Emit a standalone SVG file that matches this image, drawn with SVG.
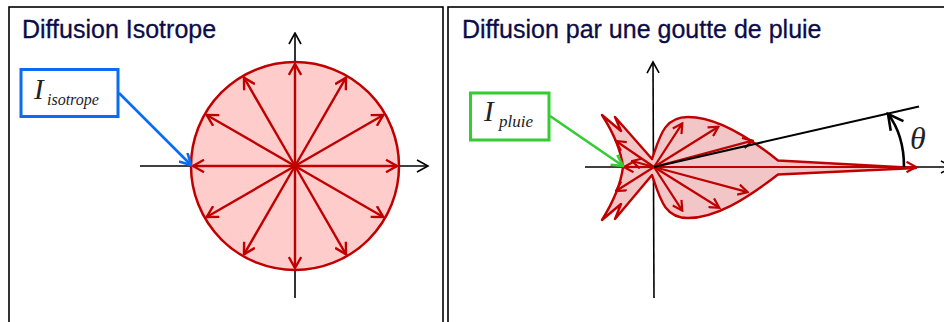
<svg xmlns="http://www.w3.org/2000/svg" width="944" height="322" viewBox="0 0 944 322">
<style>
.panel{fill:#fff;stroke:#000;stroke-width:1.6}
.title{font-family:"Liberation Sans",Arial,sans-serif;font-size:25px;fill:#0c0c48;stroke:#0c0c48;stroke-width:0.3}
.axis{stroke:#000;stroke-width:1.6;fill:none;marker-end:url(#ak)}
.ra{stroke:#c00000;stroke-width:2.4;fill:none;marker-end:url(#ar)}
.fa{stroke:#c00000;stroke-width:2.2;fill:none;marker-end:url(#ar2)}
.lbl{font-family:"Liberation Serif","Times New Roman",serif;font-style:italic;fill:#222}
</style>
<defs>
<marker id="ak" viewBox="0 0 14 14" refX="12.5" refY="7" markerWidth="14" markerHeight="14" orient="auto" markerUnits="userSpaceOnUse"><path d="M1.5,1 L12.5,7 L1.5,13" fill="none" stroke="#000" stroke-width="1.6"/></marker>
<marker id="ar" viewBox="0 0 14 14" refX="12.5" refY="7" markerWidth="14" markerHeight="14" orient="auto" markerUnits="userSpaceOnUse"><path d="M1.5,0.8 L12.5,7 L1.5,13.2" fill="none" stroke="#c00000" stroke-width="2.4"/></marker>
<marker id="ar2" viewBox="0 0 12 12" refX="10.5" refY="6" markerWidth="12" markerHeight="12" orient="auto" markerUnits="userSpaceOnUse"><path d="M1,0.8 L10.5,6 L1,11.2" fill="none" stroke="#c00000" stroke-width="2.2"/></marker>
<marker id="ab" viewBox="0 0 14 14" refX="12.5" refY="7" markerWidth="14" markerHeight="14" orient="auto" markerUnits="userSpaceOnUse"><path d="M1.5,1 L12.5,7 L1.5,13" fill="none" stroke="#0a6cf0" stroke-width="2.6"/></marker>
<marker id="ag" viewBox="0 0 14 14" refX="12.5" refY="7" markerWidth="14" markerHeight="14" orient="auto" markerUnits="userSpaceOnUse"><path d="M1.5,1 L12.5,7 L1.5,13" fill="none" stroke="#33cc33" stroke-width="2.6"/></marker>
<marker id="akt" viewBox="0 0 20 20" refX="17" refY="10" markerWidth="20" markerHeight="20" orient="auto" markerUnits="userSpaceOnUse"><path d="M2,2 L17,10 L2,18" fill="none" stroke="#000" stroke-width="2.6"/></marker>
</defs>

<g id="panel-left">
<rect class="panel" x="9" y="7" width="434" height="330"/>
<text class="title" x="22" y="38">Diffusion Isotrope</text>
</g>
<g id="panel-right">
<rect class="panel" x="448" y="7" width="520" height="330"/>
<text class="title" x="462" y="38">Diffusion par une goutte de pluie</text>
</g>

<g id="axes-left">
<line class="axis" x1="140" y1="166" x2="428" y2="166"/>
<line class="axis" x1="295" y1="298" x2="295" y2="33"/>
</g>

<g id="isotrope">
<circle cx="295" cy="166" r="104" fill="#ffcccc" stroke="#c00000" stroke-width="2.5"/>
<line class="ra" x1="295" y1="166" x2="397" y2="166"/>
<line class="ra" x1="295" y1="166" x2="383.3" y2="115"/>
<line class="ra" x1="295" y1="166" x2="346" y2="77.7"/>
<line class="ra" x1="295" y1="166" x2="295" y2="64"/>
<line class="ra" x1="295" y1="166" x2="244" y2="77.7"/>
<line class="ra" x1="295" y1="166" x2="206.7" y2="115"/>
<line class="ra" x1="295" y1="166" x2="193" y2="166"/>
<line class="ra" x1="295" y1="166" x2="206.7" y2="217"/>
<line class="ra" x1="295" y1="166" x2="244" y2="254.3"/>
<line class="ra" x1="295" y1="166" x2="295" y2="268"/>
<line class="ra" x1="295" y1="166" x2="346" y2="254.3"/>
<line class="ra" x1="295" y1="166" x2="383.3" y2="217"/>
</g>

<g id="label-isotrope">
<rect x="21" y="69.5" width="97" height="47" fill="#fff" stroke="#0a6cf0" stroke-width="3"/>
<text class="lbl" x="34" y="99" font-size="29">I</text>
<text class="lbl" x="47" y="105" font-size="16">isotrope</text>
</g>

<g id="axes-right">
<line class="axis" x1="585" y1="167" x2="952" y2="167"/>
<line class="axis" x1="654" y1="298" x2="653" y2="62"/>
</g>

<g id="pluie">
<path d="M602,115 Q620,143 623,167 Q620,191 602,220 L621,204 L615,219 L652,175 C660,198 664,218 688,218 C715,218 745,200 778,174.5 L916,168 L778,160.5 C745,134 715,117 688,117 C664,117 660,136 652,159 L615,117 L621,131 Z" fill="#f2c6c6" stroke="#c00000" stroke-width="2.4" stroke-linejoin="round"/>
<line class="fa" x1="654" y1="167" x2="682.3" y2="123.4"/>
<line class="fa" x1="654" y1="167" x2="718.4" y2="126.7"/>
<line class="fa" x1="654" y1="167" x2="752.5" y2="140.6"/>
<line class="fa" x1="654" y1="167" x2="916" y2="167"/>
<line class="fa" x1="654" y1="167" x2="747.7" y2="192.1"/>
<line class="fa" x1="654" y1="167" x2="719.3" y2="207.8"/>
<line class="fa" x1="654" y1="167" x2="682.3" y2="210.6"/>
<line class="fa" x1="654" y1="167" x2="624" y2="167"/>
<line class="fa" x1="654" y1="167" x2="616" y2="141"/>
<line class="fa" x1="654" y1="167" x2="616" y2="191"/>
<line class="fa" x1="654" y1="167" x2="632" y2="161"/>
</g>

<g id="theta">
<line x1="654" y1="167" x2="919" y2="106.5" stroke="#000" stroke-width="2"/>
<path d="M904,167 Q904,135 888,114" fill="none" stroke="#000" stroke-width="2.6" marker-end="url(#akt)"/>
<text class="lbl" x="910" y="149" font-size="32" fill="#000">θ</text>
</g>

<g id="label-pluie">
<rect x="470.5" y="93" width="78.5" height="47" fill="#fff" stroke="#33cc33" stroke-width="3"/>
<text class="lbl" x="484" y="121" font-size="29">I</text>
<text class="lbl" x="499" y="127" font-size="17">pluie</text>
</g>

<g id="connectors">
<line x1="119" y1="93" x2="191" y2="165" stroke="#0a6cf0" stroke-width="2.6" marker-end="url(#ab)"/>
<line x1="550" y1="116" x2="623" y2="166" stroke="#33cc33" stroke-width="2.6" marker-end="url(#ag)"/>
</g>
</svg>
